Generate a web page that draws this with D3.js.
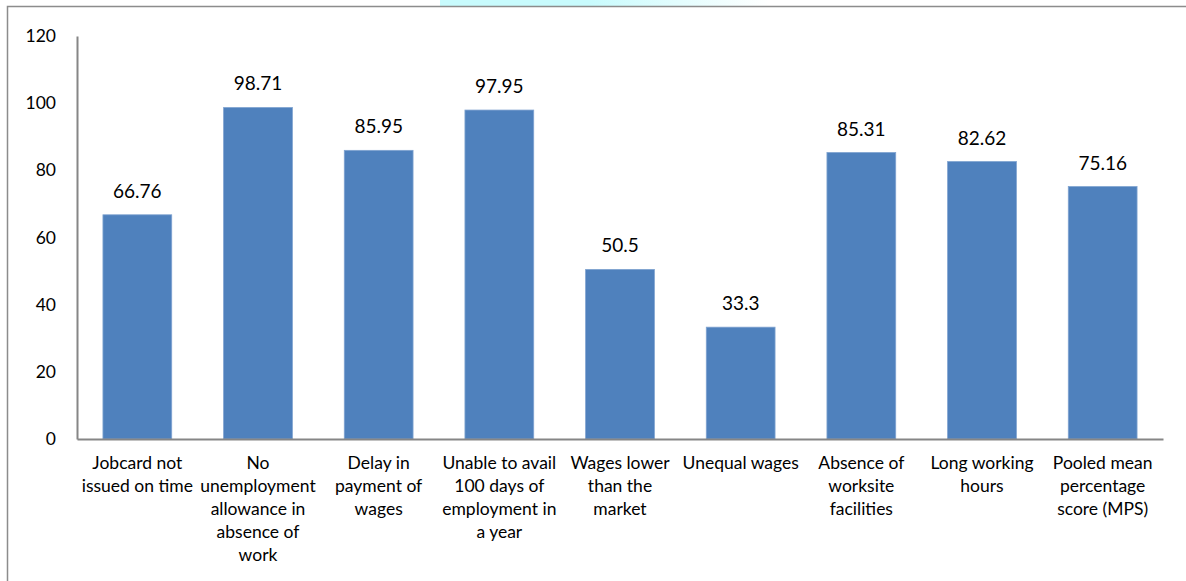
<!DOCTYPE html>
<html>
<head>
<meta charset="utf-8">
<script src="https://cdn.jsdelivr.net/npm/d3@7"></script>
<style>
  html, body { margin: 0; padding: 0; background: #fff; }
  svg { display: block; font-family: Lato, "Open Sans", sans-serif; }
</style>
</head>
<body>
<div id="chart"></div>
<script>
// Data
const categories = [
  "Jobcard not issued on time",
  "No unemployment allowance in absence of work",
  "Delay in payment of wages",
  "Unable to avail 100 days of employment in a year",
  "Wages lower than the market",
  "Unequal wages",
  "Absence of worksite facilities",
  "Long working hours",
  "Pooled mean percentage score (MPS)"
];
// how each category label wraps under the axis
const labelLines = [
  ["Jobcard not", "issued on time"],
  ["No", "unemployment", "allowance in", "absence of", "work"],
  ["Delay in", "payment of", "wages"],
  ["Unable to avail", "100 days of", "employment in", "a year"],
  ["Wages lower", "than the", "market"],
  ["Unequal wages"],
  ["Absence of", "worksite", "facilities"],
  ["Long working", "hours"],
  ["Pooled mean", "percentage", "score (MPS)"]
];
const values = [66.76, 98.71, 85.95, 97.95, 50.5, 33.3, 85.31, 82.62, 75.16];
const valueLabels = ["66.76", "98.71", "85.95", "97.95", "50.5", "33.3", "85.31", "82.62", "75.16"];
const yTicks = [0, 20, 40, 60, 80, 100, 120];

const width = 1186, height = 581;
const margin = { top: 36, right: 23, bottom: 142, left: 77 };

const svg = d3.select("#chart").append("svg")
  .attr("width", width)
  .attr("height", height);

// faint highlight left over from the cropped title
const grad = svg.append("defs").append("linearGradient").attr("id", "hl");
grad.append("stop").attr("offset", "0%").attr("stop-color", "#c8fbfd");
grad.append("stop").attr("offset", "45%").attr("stop-color", "#c8fbfd");
grad.append("stop").attr("offset", "100%").attr("stop-color", "#ffffff");
svg.append("rect")
  .attr("x", 440).attr("y", 0).attr("width", 330).attr("height", 6)
  .attr("fill", "url(#hl)");

// outer frame (top and left edges visible)
svg.append("path")
  .attr("d", `M7.5,${height} V6.5 H${width}`)
  .attr("fill", "none")
  .attr("stroke", "#8c8c8c")
  .attr("stroke-width", 1.5);

const x = d3.scaleBand()
  .domain(categories)
  .range([margin.left, width - margin.right])
  .paddingInner(0.43)
  .paddingOuter(0.215);

const y = d3.scaleLinear()
  .domain([0, 120])
  .range([height - margin.bottom, margin.top]);

// bars
svg.append("g").selectAll("rect")
  .data(values)
  .join("rect")
    .attr("x", (d, i) => x(categories[i]))
    .attr("y", d => y(d))
    .attr("width", x.bandwidth())
    .attr("height", d => y(0) - y(d))
    .attr("fill", "#4f81bd")
    .attr("stroke", "#7fa3d0")
    .attr("stroke-width", 0.8);

// value labels
svg.append("g").selectAll("text")
  .data(values)
  .join("text")
    .attr("x", (d, i) => x(categories[i]) + x.bandwidth() / 2)
    .attr("y", d => y(d) - 17)
    .attr("text-anchor", "middle")
    .attr("font-size", 19)
    .attr("fill", "#000")
    .text((d, i) => valueLabels[i]);

// y axis
const yAxis = svg.append("g")
  .attr("transform", `translate(${margin.left},0)`)
  .call(d3.axisLeft(y).tickValues(yTicks).tickSize(0).tickPadding(21));
yAxis.select(".domain").attr("stroke", "#868686").attr("stroke-width", 2);
yAxis.selectAll("text").attr("font-size", 17.5).attr("fill", "#000")
  .attr("font-family", "Lato, 'Open Sans', sans-serif");

// x axis
const xAxis = svg.append("g")
  .attr("transform", `translate(0,${y(0)})`)
  .call(d3.axisBottom(x).tickSize(0).tickFormat(""));
xAxis.select(".domain").attr("stroke", "#868686").attr("stroke-width", 2);

// wrapped category labels
const catLabels = svg.append("g").selectAll("text")
  .data(labelLines)
  .join("text")
    .attr("text-anchor", "middle")
    .attr("font-size", 17.5)
    .attr("fill", "#000");
catLabels.each(function(lines, i) {
  const cx = x(categories[i]) + x.bandwidth() / 2;
  d3.select(this).selectAll("tspan")
    .data(lines)
    .join("tspan")
      .attr("x", cx)
      .attr("y", (d, j) => y(0) + 30 + j * 23)
      .text(d => d);
});
</script>
</body>
</html>
